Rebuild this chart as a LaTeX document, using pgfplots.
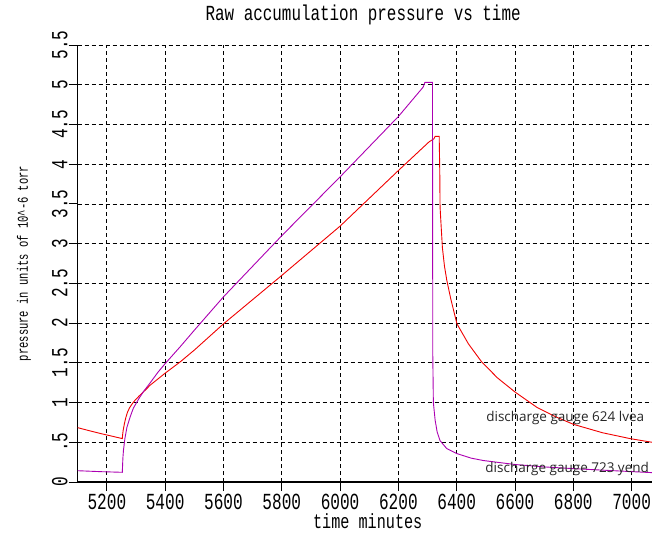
\documentclass[border=0pt]{standalone}
\usepackage{pgfplots}
\pgfplotsset{compat=1.18}
\usepackage{fontspec}
\setmainfont{Liberation Mono}
\newfontfamily\tickfont[FakeStretch=0.7]{Liberation Mono}
\newfontfamily\titfont[FakeStretch=0.74]{Liberation Mono}
\newfontfamily\labfont[FakeStretch=0.7]{Liberation Mono}
\newfontfamily\afont{Open Sans}
\definecolor{redline}{RGB}{240,0,0}
\definecolor{magline}{RGB}{172,0,178}
\begin{document}
\begin{tikzpicture}
\begin{axis}[
  scale only axis, width=574.3pt, height=437pt,
  xmin=5100, xmax=7070, ymin=0, ymax=5.5,
  axis lines=left,
  axis line style={line width=1.3pt, -, black},
  xtick={5200,5400,5600,5800,6000,6200,6400,6600,6800,7000},
  xticklabels={5200,5400,5600,5800,6000,6200,6400,6600,6800,7000},
  ytick={0,0.5,1,1.5,2,2.5,3,3.5,4,4.5,5,5.5},
  yticklabels={0,.5,1,1.5,2,2.5,3,3.5,4,4.5,5,5.5},
  scaled ticks=false,
  tick align=outside,
  major tick length=9pt,
  tick style={black, line width=0.9pt},
  grid=major,
  major grid style={black, line width=0.8pt, dash pattern=on 4pt off 3pt},
  tick label style={font=\tickfont\fontsize{23}{23}\selectfont},
  xticklabel style={inner sep=0pt, yshift=-3pt, text depth=0pt, text height=15pt},
  yticklabel style={rotate=90, anchor=south, inner sep=1pt},
  title={Raw accumulation pressure vs time},
  title style={font=\titfont\fontsize{21.5}{21.5}\selectfont, at={(axis description cs:0.497,1)}, anchor=base, yshift=18pt},
  xlabel={time minutes},
  xlabel style={font=\titfont\fontsize{20.5}{20.5}\selectfont, inner sep=0pt, text height=13pt, text depth=0pt, at={(axis description cs:0.505,0)}, anchor=base, yshift=-46pt},
  ylabel={pressure in units of 10\^{}-6 torr},
  ylabel style={font=\labfont\fontsize{15}{15}\selectfont, at={(axis description cs:-0.0936,0.5)}, anchor=center},
]
\addplot[redline, line width=0.9pt] coordinates {
(5100,0.684) (5130,0.655) (5160,0.627) (5190,0.600) (5220,0.575) (5253,0.546)
(5254,0.59) (5256,0.65) (5260,0.73) (5265,0.81) (5271,0.88) (5278,0.935)
(5287,0.985) (5297,1.03) (5310,1.08) (5330,1.15) (5349,1.22) (5400,1.37)
(5451,1.51) (5500,1.66) (5600,1.99) (5800,2.60) (6000,3.22) (6200,3.92)
(6305,4.28) (6322,4.32) (6326,4.35) (6340,4.35) (6342,3.90) (6343,3.46)
(6347,3.20) (6351,2.95) (6358,2.72) (6366,2.54) (6380,2.30) (6401,1.99)
(6440,1.74) (6486,1.51) (6540,1.31) (6601,1.13) (6675,0.94) (6740,0.82)
(6801,0.725) (6900,0.62) (6995,0.546) (7070,0.50)
};
\addplot[magline, line width=0.9pt] coordinates {
(5100,0.142) (5180,0.130) (5253,0.122) (5255,0.30) (5257,0.40) (5262,0.55)
(5269,0.69) (5280,0.82) (5291,0.93) (5310,1.05) (5326,1.14) (5349,1.25)
(5375,1.38) (5400,1.49) (5451,1.70) (5500,1.91) (5600,2.33) (5800,3.10)
(6000,3.84) (6200,4.60) (6285,4.97) (6291,5.03) (6317,5.03) (6318,1.60)
(6320,1.00) (6326,0.78) (6333,0.63) (6343,0.52) (6366,0.42) (6401,0.357)
(6450,0.30) (6492,0.27) (6601,0.22) (6700,0.19) (6801,0.168) (6950,0.14)
(7070,0.118)
};
\node[anchor=west, inner sep=0pt, text=black!85, font=\afont\fontsize{13.5}{13.5}\selectfont] at (axis cs:6501,0.80) {discharge gauge 624 lvea};
\node[anchor=west, inner sep=0pt, text=black!85, font=\afont\fontsize{13.5}{13.5}\selectfont] at (axis cs:6498,0.16) {discharge gauge 723 yend};
\coordinate (SW) at (rel axis cs:0,0);
\coordinate (NE) at (rel axis cs:1,1);
\end{axis}
\pgfresetboundingbox
\path (SW) ++(-77.7pt,-50pt) rectangle ([yshift=45pt]NE);
\end{tikzpicture}
\end{document}
